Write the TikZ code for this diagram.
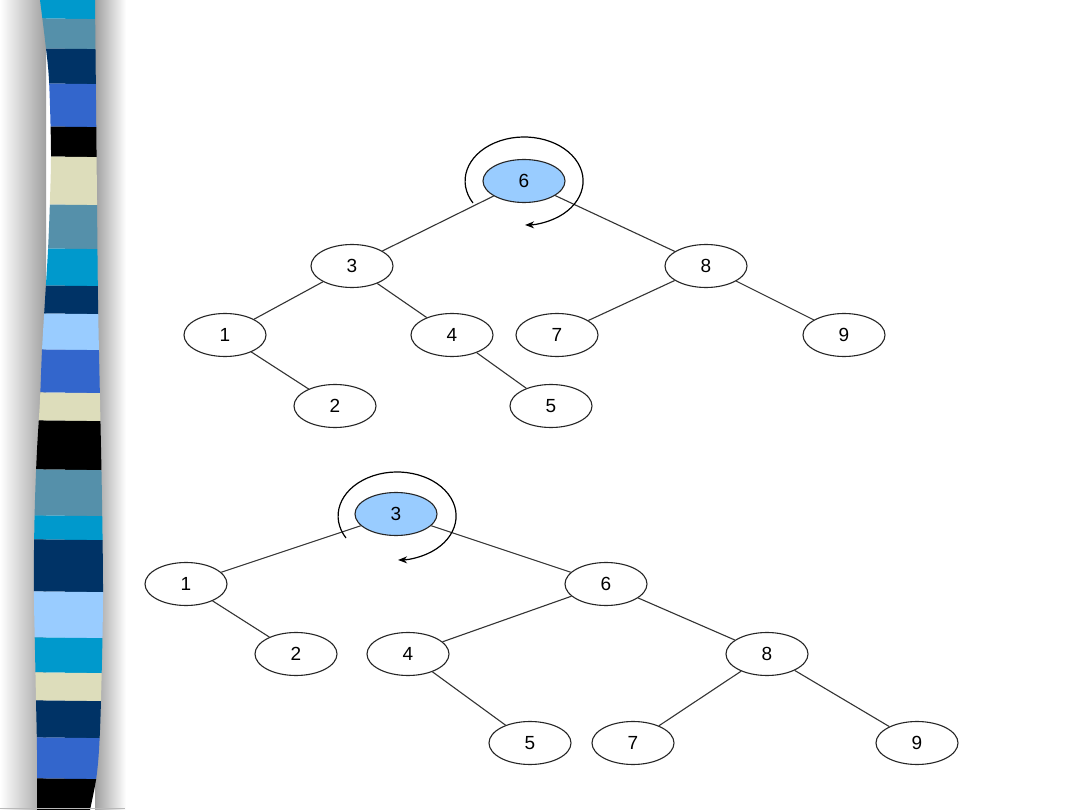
\documentclass[tikz,border=0pt]{standalone}
\usepackage{fontspec}
\setmainfont{Liberation Sans}
\usetikzlibrary{shapes.geometric,arrows.meta}
\definecolor{cyanS}{HTML}{0099CC}
\definecolor{steelS}{HTML}{5590AA}
\definecolor{navyS}{HTML}{003366}
\definecolor{royalS}{HTML}{3366CC}
\definecolor{beigeS}{HTML}{DDDDBB}
\definecolor{lightS}{HTML}{99CCFF}
\definecolor{nodefill}{HTML}{99CCFF}
\begin{document}
\begin{tikzpicture}[x=1pt,y=-1pt,
  tn/.style={ellipse,draw=black!85,line width=1.1pt,minimum width=82pt,minimum height=43pt,inner sep=0pt,font=\fontsize{19}{21}\selectfont},
  hl/.style={tn,fill=nodefill},
  edge/.style={draw=black!80,line width=1.1pt},
  rot/.style={draw=black,line width=1.2pt,-{Stealth[length=9pt,width=7pt]}}]
\useasboundingbox (0,0) rectangle (1080,810);
\fill[white] (0,0) rectangle (1080,810);
% shadows of the stripe bar
\shade[left color=white,right color=gray!75] (0,0) rectangle (46,810);
\shade[left color=gray!75,right color=white] (95,0) rectangle (126,810);
% stripe bar
\begin{scope}
\clip plot[smooth] coordinates {(40,0) (45,40) (49,80) (51,150) (50,200) (48,250) (45,300) (42,350) (40,400) (37,450) (35,500) (34,550) (34,600) (35,650) (36,700) (37,750) (37,810)}
  -- plot[smooth] coordinates {(90,810) (96,780) (99,750) (101,700) (103,600) (102,500) (100,400) (98,300) (97,200) (96,100) (95,0)} -- cycle;
\foreach \a/\b/\c in {-1/18/cyanS,18/48/steelS,48/83/navyS,83/126/royalS,126/156/black,156/204/beigeS,204/248/steelS,248/285/cyanS,285/313/navyS,313/349/lightS,349/392/royalS,392/420/beigeS,420/469/black,469/515/steelS,515/539/cyanS,539/591/navyS,591/637/lightS,637/672/cyanS,672/700/beigeS,700/737/navyS,737/778/royalS,778/811/black}
  \fill[\c] (0,\a) -- (130,\a+1.5) -- (130,\b+1.5) -- (0,\b) -- cycle;
\end{scope}
\draw[gray!55,line width=1.5pt] (0,808.5) -- (125,808.5);

% top tree
\node[hl] (a6) at (524,181) {6};
\node[tn] (a3) at (352,266) {3};
\node[tn] (a8) at (706,266) {8};
\node[tn] (a1) at (225,335) {1};
\node[tn] (a4) at (452,335) {4};
\node[tn] (a7) at (557,335) {7};
\node[tn] (a9) at (844,335) {9};
\node[tn] (a2) at (335,406) {2};
\node[tn] (a5) at (551,406) {5};
\draw[edge] (a6) -- (a3);
\draw[edge] (a6) -- (a8);
\draw[edge] (a3) -- (a1);
\draw[edge] (a3) -- (a4);
\draw[edge] (a8) -- (a7);
\draw[edge] (a8) -- (a9);
\draw[edge] (a1) -- (a2);
\draw[edge] (a4) -- (a5);
\draw[rot] ([shift={(-51,22)}]a6.center) arc[start angle=150,end angle=449,x radius=59,y radius=44];

% bottom tree
\node[hl] (b3) at (396,514) {3};
\node[tn] (b1) at (186,584) {1};
\node[tn] (b6) at (606,584) {6};
\node[tn] (b2) at (296,654) {2};
\node[tn] (b4) at (408,654) {4};
\node[tn] (b8) at (767,654) {8};
\node[tn] (b5) at (530,743) {5};
\node[tn] (b7) at (633,743) {7};
\node[tn] (b9) at (917,743) {9};
\draw[edge] (b3) -- (b1);
\draw[edge] (b3) -- (b6);
\draw[edge] (b1) -- (b2);
\draw[edge] (b6) -- (b4);
\draw[edge] (b6) -- (b8);
\draw[edge] (b4) -- (b5);
\draw[edge] (b8) -- (b7);
\draw[edge] (b8) -- (b9);
\draw[rot] ([shift={(-50,24)}]b3.center) arc[start angle=150,end angle=449,x radius=59,y radius=44];
\end{tikzpicture}
\end{document}
